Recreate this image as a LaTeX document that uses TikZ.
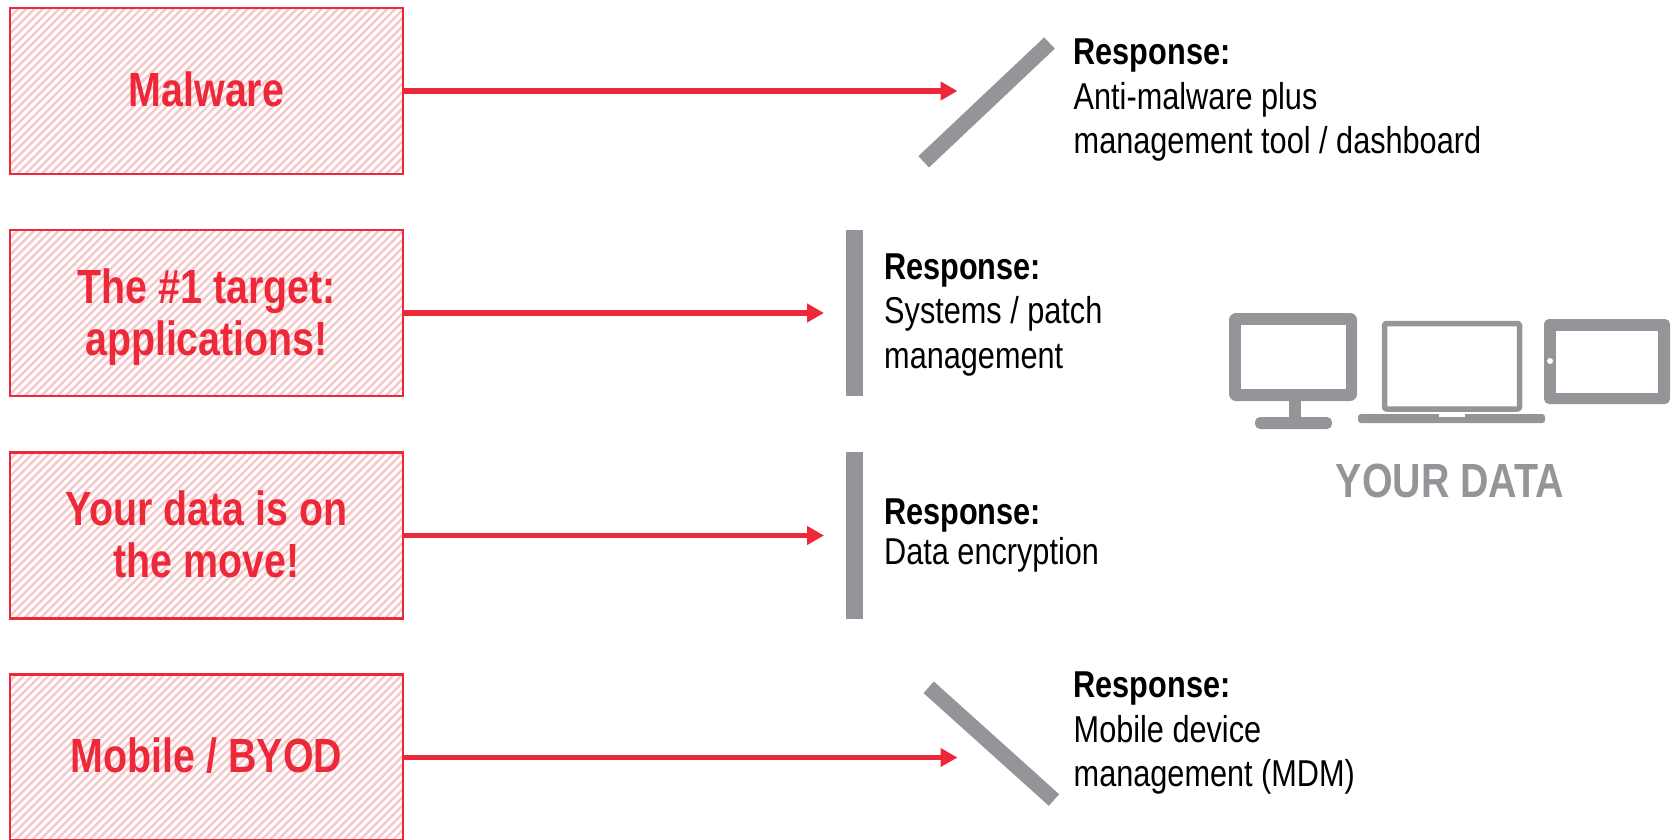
\documentclass[tikz,border=0pt]{standalone}
\usepackage{fontspec}
\setmainfont[FakeStretch=0.82]{Liberation Sans}
\usetikzlibrary{arrows.meta,patterns.meta}
\definecolor{threatred}{HTML}{ED2939}
\definecolor{hatchpink}{HTML}{F7C6C9}
\definecolor{shieldgray}{HTML}{939598}
\newcommand{\threatline}[2]{\raisebox{0pt}[#1pt][0pt]{#2}}
\tikzset{
	threatbox/.style={draw=threatred, line width=2.7pt, minimum width=393pt, minimum height=166pt, inner sep=0pt, align=center, text=threatred,
		font=\fontsize{48}{52}\selectfont\bfseries, pattern={Lines[angle=45,distance=5.8pt,line width=2.4pt]}, pattern color=hatchpink},
	threatarrow/.style={draw=threatred, line width=5.5pt, -{Triangle[length=17pt,width=18pt]}},
	barrier/.style={draw=shieldgray, line width=15.5pt},
	response/.style={anchor=north west, inner sep=0pt, align=left, font=\fontsize{37.4}{44.5}\selectfont},
	device/.style={draw=shieldgray, fill=white, line join=round}
}
\begin{document}
\begin{tikzpicture}[x=1pt, y=-1pt, line cap=butt]
	\useasboundingbox (0,0) rectangle (1675,839);
	% threats
	\node[threatbox] (malware) at (206.5,91) {\threatline{30}{Malware}};
	\node[threatbox] (target) at (206.5,313) {\threatline{33.6}{The \#1 target:}\\\threatline{0}{applications!}};
	\node[threatbox] (move) at (206.5,535.5) {\threatline{31}{Your data is on}\\\threatline{0}{the move!}};
	\node[threatbox] (mobile) at (206.5,757.5) {\threatline{30}{Mobile / BYOD}};
	% barriers
	\coordinate (malwareA) at (1049.5,43);
	\coordinate (malwareB) at (923.7,161.8);
	\coordinate (targetA) at (854.4,230);
	\coordinate (targetB) at (854.4,396);
	\coordinate (moveA) at (854.4,452);
	\coordinate (moveB) at (854.4,618.5);
	\coordinate (mobileA) at (928.7,687.3);
	\coordinate (mobileB) at (1054,800);
	\draw[barrier] (malwareA)--(malwareB);
	\draw[barrier, line width=16.5pt] (targetA)--(targetB);
	\draw[barrier, line width=16.5pt] (moveA)--(moveB);
	\draw[barrier] (mobileA)--(mobileB);
	% arrows
	\coordinate (malwareHit) at (957.5,91);
	\coordinate (targetHit) at (824,313);
	\coordinate (moveHit) at (824,535.5);
	\coordinate (mobileHit) at (957.5,757.5);
	\draw[threatarrow] (malware.east)--(malwareHit);
	\draw[threatarrow] (target.east)--(targetHit);
	\draw[threatarrow] (move.east)--(moveHit);
	\draw[threatarrow] (mobile.east)--(mobileHit);
	% responses
	\node[response] (respA) at (1073.5,39) {\textbf{Response:}\\Anti-malware plus\\management tool / dashboard};
	\node[response] (respB) at (884,253.5) {\textbf{Response:}\\Systems / patch\\management};
	\node[response] (respC) at (884,498.5) {\textbf{Response:}\\[-4.5pt]Data encryption};
	\node[response] (respD) at (1073.5,672) {\textbf{Response:}\\Mobile device\\management (MDM)};
	% devices
	\fill[shieldgray, rounded corners=7pt] (1229,313) rectangle (1357,401);
	\fill[white] (1241,325) rectangle (1346,389);
	\fill[shieldgray] (1289,400) rectangle (1301,418);
	\fill[shieldgray, rounded corners=5pt] (1255,417) rectangle (1332,429);
	\draw[device, line width=5.5pt, rounded corners=2pt] (1384.5,323.5) rectangle (1519.5,409);
	\fill[shieldgray, rounded corners=3pt] (1358,414) rectangle (1545,423);
	\fill[white] (1439,414) rectangle (1465,417);
	\fill[shieldgray, rounded corners=5pt] (1544,319) rectangle (1670,404);
	\fill[white] (1555.5,331) rectangle (1658,392.5);
	\fill[white] (1550,361) circle (3pt);
	\node[inner sep=0pt, anchor=base, text=shieldgray, font=\fontsize{48}{52}\selectfont\bfseries] (yourdata) at (1450,497) {YOUR DATA};
\end{tikzpicture}
\end{document}
